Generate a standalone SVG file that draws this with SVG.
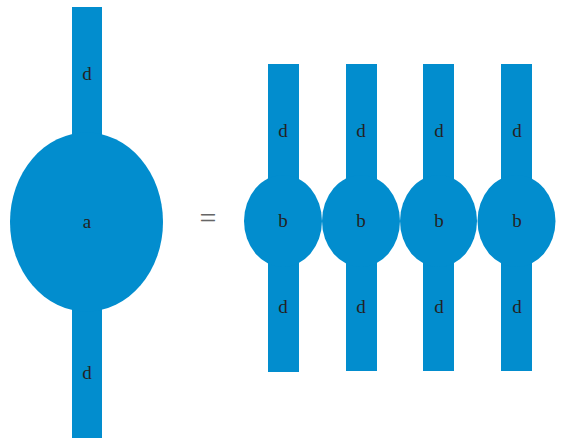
<svg xmlns="http://www.w3.org/2000/svg" width="564" height="440" viewBox="0 0 564 440">
<style>
.s{fill:#028dce}
.t{font-family:"Liberation Serif",serif;font-size:19px;fill:#222;text-anchor:middle}
.eq{font-family:"Liberation Serif",serif;font-size:30px;fill:#666;text-anchor:middle}
</style>
<rect width="564" height="440" fill="#fff"/>
<g id="connectors"></g>
<g id="node-a">
<rect class="s" x="72" y="7" width="30" height="431"/>
<ellipse class="s" cx="86.5" cy="222" rx="76.5" ry="89.5"/>
<text class="t" x="87" y="80">d</text>
<text class="t" x="87" y="228">a</text>
<text class="t" x="87" y="379">d</text>
</g>
<text class="eq" x="208" y="228">=</text>
<g id="node-b1">
<rect class="s" x="268" y="64" width="31" height="308"/>
<ellipse class="s" cx="283" cy="221" rx="39" ry="46"/>
<text class="t" x="283" y="137">d</text>
<text class="t" x="283" y="227">b</text>
<text class="t" x="283" y="313">d</text>
</g>
<g id="node-b2">
<rect class="s" x="346" y="64" width="31" height="307"/>
<ellipse class="s" cx="361" cy="221" rx="39" ry="46"/>
<text class="t" x="361" y="137">d</text>
<text class="t" x="361" y="227">b</text>
<text class="t" x="361" y="313">d</text>
</g>
<g id="node-b3">
<rect class="s" x="423" y="64" width="31" height="307"/>
<ellipse class="s" cx="438.5" cy="221" rx="38.5" ry="46"/>
<text class="t" x="439" y="137">d</text>
<text class="t" x="439" y="227">b</text>
<text class="t" x="439" y="313">d</text>
</g>
<g id="node-b4">
<rect class="s" x="501" y="64" width="31" height="307"/>
<ellipse class="s" cx="516.5" cy="221" rx="39" ry="46"/>
<text class="t" x="517" y="137">d</text>
<text class="t" x="517" y="227">b</text>
<text class="t" x="517" y="313">d</text>
</g>
</svg>
